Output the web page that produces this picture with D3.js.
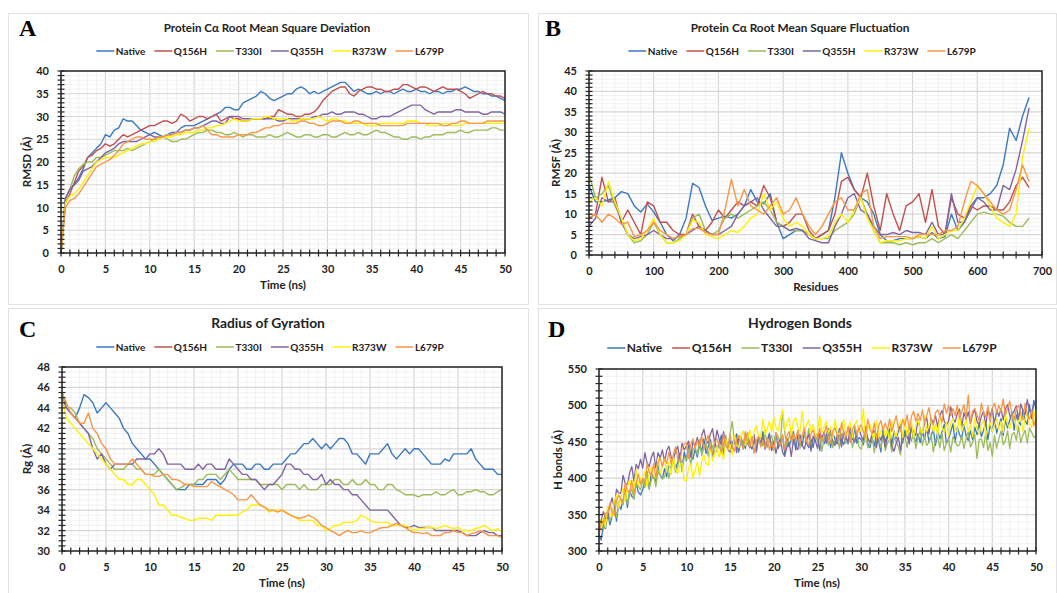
<!DOCTYPE html>
<html>
<head>
<meta charset="utf-8">
<script src="https://cdn.jsdelivr.net/npm/d3@7"></script>
<style>
body { margin: 0; background: #fff; }
svg { font-family: Lato, "Open Sans", sans-serif; }
</style>
</head>
<body>
<svg id="chart" width="1057" height="593"></svg>
<script>
const seriesNames = ['Native', 'Q156H', 'T330I', 'Q355H', 'R373W', 'L679P'];
const seriesColors = ['#3b78c0', '#c0504d', '#9bbb59', '#8064a2', '#fff000', '#f79646'];

// sampling grids: A and C every 0.5 ns, D every 0.25 ns, B every 10 residues
const timeNs = d3.range(0, 101).map(i => i * 0.5);
const timeFine = d3.range(0, 201).map(i => i * 0.25);
const residues = d3.range(0, 69).map(i => i * 10);

/*
 * A: RMSD (Å)
 */
const rmsdNative = [0, 12, 14, 15, 16.5, 18.5, 21, 22, 23, 24,
  26, 25.5, 27, 27.5, 29.5, 29, 29, 28, 27, 26.5,
  26, 26.5, 26, 25.5, 26, 26.5, 26.5, 27.5, 28, 28,
  28, 28.5, 29, 29.5, 30, 30.5, 31, 32, 32, 31.5,
  31.5, 33, 33.5, 34, 34.5, 35.5, 35, 34, 33.5, 34,
  34.5, 35, 35, 36, 36.5, 36, 35, 35.5, 35, 35.5,
  36, 36.5, 37, 37.5, 37.5, 36.5, 35.5, 36, 35.5, 35,
  35, 35.5, 35, 35.5, 35.5, 35, 35.5, 36, 35.5, 35.5,
  36, 35.5, 35.5, 35, 35.5, 35.5, 35, 35.5, 35.5, 36,
  36, 36.5, 36, 35.5, 35.5, 35, 35, 34.5, 34.5, 34,
  33.5];
const rmsdQ156H = [0, 11, 13, 15.5, 18, 19, 21, 21.5, 22.5, 23,
  24, 23.5, 24, 25, 26, 25.5, 26, 26.5, 27, 27.5,
  28, 28, 28.5, 29, 29, 28.5, 29, 30.5, 30, 29,
  29.5, 30, 30, 29.5, 30, 30.5, 29, 29.5, 30, 29.5,
  29.5, 29, 29, 29.5, 29.5, 29.5, 29.5, 30, 30, 31.5,
  31, 30.5, 30.5, 30, 30, 30.5, 30.5, 31, 32, 33.5,
  34.5, 35.5, 36, 36.5, 36.5, 35, 34.5, 35.5, 36, 36.5,
  36.5, 36, 36, 35.5, 35.5, 36, 36, 37, 37, 36.5,
  36, 36.5, 36.5, 36, 35.5, 36, 36.5, 36, 36, 36,
  35.5, 35, 34, 34.5, 35, 35.5, 35, 35, 34.5, 34.5,
  34];
const rmsdT330I = [0, 12, 14, 17, 18.5, 19.5, 20, 20, 21, 21,
  21.5, 22, 22.5, 22.5, 22.5, 23, 22.5, 23, 23.5, 24,
  24.5, 25, 25, 25.5, 25, 24.5, 24.5, 25, 25, 25.5,
  26, 26.5, 26.5, 27, 27, 26.5, 26.5, 26, 26, 26.5,
  26, 25.5, 26, 26, 25.5, 25.5, 25.5, 26, 25.5, 25.5,
  26, 26.5, 26, 25.5, 25.5, 26, 26, 25.5, 25.5, 26,
  26, 25.5, 25.5, 26, 26.5, 26, 26, 26.5, 26, 26,
  26.5, 27, 26.5, 26.5, 26, 25.5, 25.5, 25, 25, 25.5,
  25.5, 25, 25.5, 25.5, 26, 26, 26, 26.5, 26.5, 26.5,
  27, 26.5, 26.5, 27, 27, 27, 27, 27.5, 27.5, 27,
  27];
const rmsdQ355H = [0, 12, 14, 15, 16, 18, 18.5, 19, 20, 21,
  22, 22.5, 23, 24, 24.5, 24.5, 24.5, 24.5, 25, 25.5,
  26, 25.5, 25.5, 25.5, 26, 26, 26.5, 26.5, 27, 27,
  27.5, 27.5, 28, 28.5, 29, 29, 28.5, 28.5, 30, 30,
  30, 29.5, 29.5, 29.5, 29.5, 29.5, 29.5, 29.5, 29.5, 29,
  29, 29.5, 29.5, 29.5, 29.5, 29.5, 29.5, 30, 30, 30.5,
  30.5, 31, 30.5, 30.5, 31, 31, 31, 30.5, 30.5, 30,
  29.5, 29.5, 30, 30, 30, 30.5, 31, 31.5, 32, 32.5,
  32.5, 32.5, 31.5, 31, 30.5, 31, 31, 31, 31, 31.5,
  31.5, 31, 31, 31, 31, 30.5, 30.5, 31, 31, 31,
  30.5];
const rmsdR373W = [0, 11, 12.5, 13, 14, 15.5, 17, 18.5, 20, 20.5,
  21, 21, 21, 21.5, 22, 22.5, 23, 23.5, 24, 24,
  24.5, 24.5, 25, 25.5, 25.5, 25.5, 26, 26, 26.5, 26.5,
  26.5, 27, 27, 27.5, 27.5, 28, 28, 28.5, 29, 29.5,
  29, 29, 29, 29.5, 29.5, 29.5, 30, 30, 29.5, 29.5,
  29.5, 29.5, 29, 29, 29.5, 29.5, 29.5, 29.5, 30, 29.5,
  29, 29.5, 29.5, 29, 29, 28.5, 28.5, 28.5, 28.5, 28,
  28, 28, 28.5, 28.5, 28.5, 28.5, 28.5, 28.5, 29, 29,
  29, 28.5, 28.5, 28, 28, 28, 28.5, 28.5, 28, 28,
  28, 28.5, 28.5, 28.5, 28.5, 28.5, 28.5, 28.5, 28.5, 28.5,
  28.5];
const rmsdL679P = [0, 10, 11.5, 12, 13, 14.5, 16, 17.5, 19, 19.5,
  20, 20.5, 21.5, 22.5, 24, 24.5, 25, 25.5, 25.5, 25,
  25, 25, 25.5, 25.5, 26, 26, 26.5, 26.5, 27, 27,
  27.5, 27.5, 28, 27, 26, 26, 25.5, 25.5, 25.5, 25.5,
  26, 26, 26, 26.5, 26.5, 27, 27.5, 27.5, 28, 28,
  28.5, 28.5, 28.5, 28.5, 29, 29, 28.5, 28.5, 28, 28,
  28.5, 29, 29, 29, 28.5, 28.5, 29, 29, 28.5, 28.5,
  28.5, 28.5, 28, 28, 28, 28, 28, 28, 28.5, 28.5,
  28.5, 28.5, 28.5, 28.5, 28.5, 28.5, 28, 28, 28.5, 28.5,
  29, 29, 28.5, 28.5, 28.5, 28.5, 29, 29, 29, 29,
  29];

/*
 * B: RMSF (Å) per residue
 */
const rmsfNative = [17, 13, 13, 13.5, 14, 15.5, 15, 12, 10.5, 12.5,
  10.5, 8, 5, 3.5, 5, 9, 17.5, 16.5, 12, 8.5,
  9, 9.5, 9, 10, 12, 16, 13, 12.5, 15, 8,
  4, 5, 6, 6, 5, 4, 5, 6, 14, 25,
  20, 16, 14, 13, 10, 5, 3.5, 3.5, 4, 4,
  4, 4.5, 4, 5.5, 4, 4.5, 10, 6, 8, 12,
  14, 14, 15, 17, 22, 31, 28, 34, 38.5];
const rmsfQ156H = [9, 10, 19, 13, 14, 8, 11, 8, 5, 13,
  12, 8, 8, 6, 5, 5, 10, 7, 6, 8,
  11, 9, 11, 13, 12, 13, 12, 17, 14, 8,
  7, 8, 10, 10, 6, 4, 5, 6, 10, 18,
  19, 16, 14, 20, 12, 6, 15, 10, 6, 12,
  13, 15, 8, 16, 7, 5, 14, 10, 9, 12,
  11, 12, 12, 11, 11, 13, 17, 19, 16.5];
const rmsfT330I = [20, 14, 15, 17, 12, 9, 5, 3, 3.5, 5,
  8, 5, 3, 3, 4, 5, 9, 10, 6, 5,
  6, 9, 10, 9, 10, 11, 12, 13, 11, 8,
  7, 6, 6, 6, 5, 4, 4, 4, 6, 7,
  8, 10, 14, 10, 6, 3, 3, 3, 2.5, 3,
  2.5, 3, 3, 4, 3, 4, 5, 4, 6, 8,
  10, 10.5, 10, 10, 9.5, 8, 7, 7, 9];
const rmsfQ355H = [7, 9, 14, 13, 13, 8, 5, 4, 4.5, 5,
  6, 5, 4, 4, 4.5, 5, 6, 7, 6, 5,
  5, 6, 7, 10, 12, 13, 14, 11, 9, 7,
  7, 6, 6.5, 6, 4, 3.5, 3, 3, 7, 10,
  14, 15, 11, 10, 7, 5, 5, 5.5, 5, 6,
  5.5, 5.5, 5, 8, 5, 5, 15, 8, 8, 11,
  14, 13, 11, 11, 17, 16, 21, 28, 36];
const rmsfR373W = [13, 14, 12, 18, 13, 9, 5, 3.5, 4, 6,
  9, 5, 3, 3, 3.5, 5, 8.5, 8, 5, 4.5,
  4, 5, 6, 5.5, 7, 9, 10, 15, 11, 13,
  9, 7, 8, 7, 5, 4, 4, 4.5, 8, 10,
  8, 11, 14, 9, 6, 3, 3.5, 3.5, 3.5, 4,
  4, 4.5, 4, 7, 4, 5, 6, 6, 9, 13,
  17, 15, 12, 9, 8, 7, 10, 24, 31];
const rmsfL679P = [9, 10, 8, 10, 9, 7.5, 8, 4.5, 5, 6,
  8, 6, 5, 4, 4.5, 5, 6.5, 6.5, 5.5, 5,
  5, 11, 18.5, 12, 16, 12, 11, 10, 12, 14,
  10, 11, 14, 10, 7, 5, 7, 10, 13, 14,
  11, 11, 15, 16, 7, 4, 4.5, 4.5, 4.5, 4.5,
  4, 5, 5, 5, 5, 6, 6, 7, 13, 18,
  17, 15, 13, 11, 10, 11, 16, 22, 18];

/*
 * C: radius of gyration (Å); Q156H is not visible in the figure
 */
const rgNative = [45.5, 44, 43.5, 43, 44, 45.3, 45, 44.5, 43.5, 44,
  44.5, 44, 43.5, 43, 42, 41.5, 40.5, 40, 39.5, 39,
  39, 38.5, 38, 37.5, 37, 36.5, 36, 36, 36, 36.5,
  36.5, 36.5, 36.5, 37, 37, 37, 36.5, 37, 38, 38.5,
  38.5, 38.5, 38, 38, 38.5, 38.5, 38, 38, 38.5, 38.5,
  38.5, 39, 39.5, 39.5, 40, 40.5, 40.5, 41, 40.5, 40,
  40.5, 40, 40.5, 41, 41, 40.5, 39.5, 39.5, 39, 38.5,
  39.5, 39.5, 39.5, 40, 40.5, 39.5, 39, 39.5, 40, 39.5,
  40, 40, 39.5, 39, 38.5, 38.5, 38.5, 39, 38.8, 39.5,
  39.5, 39.5, 39.5, 40, 39, 38.5, 38, 38, 38, 37.5,
  37.5];
const rgQ156H = [];
const rgT330I = [45.5, 44, 44, 43.5, 42.5, 42, 41.5, 41, 40, 39.5,
  39, 38.5, 38, 38, 38, 38.5, 38.5, 38, 38, 37.5,
  37.5, 37.5, 38, 37.5, 37, 36.5, 36, 36.2, 36.5, 36.5,
  36.5, 37, 37, 37.5, 37.5, 37.5, 37, 37.5, 38, 37.5,
  37, 37, 37, 37, 37, 36.5, 36.5, 36.5, 36.5, 36.5,
  36, 36.5, 36.5, 36.5, 36, 36.5, 36, 36, 36, 36.5,
  36.5, 36.5, 37, 37, 36.5, 36.5, 37, 36.5, 36.5, 37,
  36.5, 36.5, 36, 36, 36.5, 36.5, 36, 35.8, 35.5, 35.5,
  35.5, 35.3, 35.5, 35.5, 35.5, 35.8, 35.5, 35.5, 35.8, 36,
  35.5, 35.5, 35.8, 35.8, 36, 35.8, 35.8, 35.5, 35.5, 35.8,
  36];
const rgQ355H = [45, 44, 43.5, 43, 42.5, 42, 41.5, 40, 39, 39.5,
  38.5, 38, 38.5, 38.5, 38.5, 38.5, 38.5, 39, 39, 39,
  39.5, 39.5, 40, 39.5, 38.5, 38.5, 38.5, 38.5, 38, 38,
  38, 38.5, 38, 38.5, 38.5, 38, 38, 38, 39, 38.5,
  38, 37.5, 37.5, 37, 37, 36.5, 36, 36.5, 36.5, 37,
  37.5, 38.5, 38.5, 38, 38, 37.5, 37.5, 37, 37, 37.5,
  36.5, 37, 36.5, 36.5, 36, 36, 35.5, 35.5, 35, 34.5,
  34, 34, 34, 34, 34, 33.5, 33, 32.5, 32.3, 32.3,
  32.5, 32.3, 32.3, 32.3, 32.3, 32, 32, 32, 32, 32,
  32, 31.8, 31.5, 31.5, 31.5, 31.8, 32, 31.8, 31.8, 31.5,
  31.5];
const rgR373W = [45, 43, 42.5, 42, 41.5, 41, 40.5, 40, 39.5, 39,
  38.5, 38, 37.5, 37, 37, 36.5, 36.5, 37, 37, 36.5,
  36, 35.5, 34.5, 34.5, 34, 33.5, 33.5, 33.3, 33.2, 33,
  33, 33.2, 33.2, 33.2, 33, 33.5, 33.5, 33.5, 33.5, 33.5,
  33.5, 33.8, 34, 34.5, 34.5, 34.5, 34.3, 33.8, 34, 34,
  34, 33.8, 33.5, 33.3, 33, 33, 33, 33, 32.5, 32.5,
  32, 32.2, 32.5, 32.5, 32.8, 32.8, 32.8, 33, 33.5, 33.3,
  33, 32.8, 32.8, 32.8, 32.8, 32.5, 32.5, 32.5, 32.5, 32.3,
  32, 32.2, 32.2, 32.3, 32.3, 32.2, 32.3, 32.5, 32.3, 32.2,
  32.3, 32, 32, 32, 32.2, 32.3, 32.5, 32.2, 32, 32.2,
  31.8];
const rgL679P = [45.5, 44.5, 43.5, 43, 42.5, 42.5, 43.5, 42, 41.5, 40.5,
  40, 39, 38.5, 38.5, 38.5, 38.5, 39, 38.5, 38, 37.5,
  37.5, 37.3, 37.3, 37.5, 37.5, 37, 37, 36.8, 36.5, 36.5,
  36.3, 36.3, 36.3, 36.3, 36.8, 36.5, 36.3, 36, 35.8, 35.5,
  35, 35, 35, 35.5, 35, 34.5, 34.3, 34, 34, 33.8,
  34, 33.7, 33.5, 33.3, 33.2, 33.3, 33.5, 33.3, 33, 32.5,
  32.3, 32, 31.8, 31.5, 31.8, 32, 31.8, 31.8, 32, 31.8,
  31.8, 32, 32.2, 32.3, 32.3, 32.5, 32.7, 32.5, 32.3, 32,
  31.8, 31.8, 31.7, 31.8, 31.5, 31.5, 31.5, 31.8, 31.8, 32,
  31.8, 31.8, 31.5, 31.7, 31.8, 32, 31.8, 31.5, 31.5, 31.5,
  31.3];

/*
 * D: hydrogen bonds every 0.25 ns; Q156H is not visible in the figure
 */
const hbNative = [
  322, 315, 336, 331, 352, 336, 348, 361, 341, 365, 357, 370, 384, 360, 383, 375, 372, 394, 381, 377,
  384, 396, 409, 385, 408, 400, 396, 418, 404, 399, 413, 402, 420, 412, 430, 412, 422, 434, 413, 436,
  424, 445, 431, 426, 440, 429, 446, 437, 454, 434, 443, 453, 430, 450, 438, 448, 459, 433, 453, 443,
  452, 440, 451, 461, 436, 456, 447, 441, 462, 446, 440, 453, 441, 457, 447, 464, 444, 452, 462, 438,
  446, 462, 441, 449, 458, 434, 455, 443, 454, 464, 439, 459, 450, 444, 464, 448, 442, 454, 442, 458,
  462, 438, 459, 447, 458, 468, 442, 463, 453, 447, 468, 452, 446, 458, 447, 463, 453, 469, 448, 456,
  453, 446, 465, 448, 442, 455, 444, 460, 451, 436, 469, 450, 458, 468, 445, 465, 454, 464, 474, 448,
  466, 456, 451, 471, 456, 450, 461, 449, 464, 454, 470, 450, 458, 468, 445, 465, 454, 464, 474, 448,
  454, 464, 475, 449, 470, 460, 454, 474, 458, 452, 465, 453, 470, 460, 477, 457, 466, 476, 453, 473,
  464, 481, 462, 471, 482, 459, 480, 469, 480, 491, 466, 487, 478, 473, 494, 479, 474, 501, 482, 507,
  495];
const hbQ156H = [];
const hbT330I = [
  326, 342, 328, 343, 357, 341, 350, 366, 346, 367, 372, 363, 386, 365, 378, 386, 371, 393, 389, 384,
  398, 387, 409, 386, 398, 405, 388, 409, 405, 399, 402, 416, 400, 414, 426, 408, 416, 430, 409, 429,
  426, 440, 418, 439, 443, 432, 453, 431, 442, 448, 430, 449, 443, 435, 438, 451, 434, 447, 459, 440,
  462, 478, 448, 444, 446, 458, 440, 452, 462, 442, 448, 460, 436, 454, 456, 444, 466, 442, 453, 459,
  442, 462, 457, 449, 492, 463, 445, 457, 467, 447, 453, 465, 441, 459, 461, 449, 468, 444, 453, 459,
  450, 461, 437, 454, 456, 445, 465, 442, 452, 459, 441, 462, 456, 448, 449, 461, 442, 454, 463, 443,
  440, 452, 462, 442, 446, 458, 435, 453, 454, 442, 462, 438, 448, 454, 436, 456, 451, 443, 432, 458,
  458, 442, 463, 451, 465, 441, 456, 466, 445, 458, 445, 449, 460, 436, 453, 455, 442, 462, 438, 448,
  454, 436, 457, 451, 444, 446, 459, 441, 454, 464, 443, 449, 460, 427, 453, 454, 442, 462, 438, 449,
  430, 459, 441, 454, 465, 446, 452, 465, 441, 460, 463, 452, 472, 449, 459, 466, 448, 469, 463, 456,
  458];
const hbQ355H = [
  322, 342, 354, 345, 345, 362, 373, 358, 385, 380, 379, 404, 393, 391, 407, 416, 396, 419, 413, 426,
  414, 435, 421, 416, 429, 436, 414, 435, 428, 439, 423, 438, 444, 429, 424, 437, 444, 425, 448, 439,
  444, 451, 429, 450, 444, 456, 442, 459, 467, 452, 448, 461, 468, 446, 466, 454, 446, 464, 447, 439,
  436, 448, 455, 435, 458, 448, 443, 463, 448, 442, 454, 460, 436, 456, 448, 457, 440, 453, 458, 441,
  451, 434, 448, 453, 436, 430, 443, 449, 430, 453, 444, 439, 460, 445, 440, 453, 460, 437, 458, 452,
  441, 461, 453, 464, 448, 462, 467, 451, 445, 457, 463, 443, 465, 455, 450, 470, 455, 449, 461, 468,
  458, 452, 471, 455, 449, 461, 466, 442, 461, 452, 460, 443, 456, 461, 444, 437, 448, 456, 438, 462,
  457, 465, 447, 471, 463, 459, 481, 467, 462, 476, 483, 461, 482, 475, 486, 471, 486, 493, 478, 473,
  478, 498, 482, 477, 489, 495, 470, 490, 481, 491, 475, 488, 494, 478, 473, 485, 492, 472, 495, 485,
  496, 472, 493, 485, 496, 480, 495, 501, 486, 480, 493, 499, 480, 502, 493, 487, 508, 493, 488, 501,
  506];
const hbR373W = [
  345, 332, 345, 333, 362, 350, 348, 367, 377, 359, 374, 386, 368, 389, 398, 386, 385, 411, 391, 400,
  400, 409, 388, 408, 415, 403, 401, 427, 407, 416, 425, 411, 422, 405, 430, 413, 406, 418, 421, 397,
  397, 413, 420, 400, 412, 422, 403, 423, 432, 420, 418, 444, 424, 434, 443, 429, 440, 426, 453, 439,
  446, 432, 460, 446, 442, 458, 465, 445, 456, 466, 445, 465, 472, 459, 456, 481, 460, 469, 478, 463,
  484, 470, 465, 481, 494, 466, 475, 483, 460, 478, 483, 469, 464, 492, 465, 473, 480, 464, 474, 458,
  462, 486, 463, 471, 478, 462, 471, 455, 480, 464, 459, 473, 480, 458, 469, 477, 456, 474, 479, 464,
  466, 496, 451, 469, 474, 460, 455, 479, 456, 464, 472, 457, 467, 451, 478, 462, 457, 471, 478, 456,
  480, 458, 469, 477, 456, 474, 480, 466, 462, 486, 464, 472, 480, 464, 474, 458, 485, 469, 463, 477,
  458, 476, 482, 467, 463, 487, 464, 472, 480, 464, 473, 457, 483, 467, 460, 474, 480, 458, 469, 477,
  464, 473, 482, 467, 478, 463, 489, 474, 468, 483, 489, 467, 478, 486, 464, 482, 488, 474, 470, 494,
  476];
const hbL679P = [
  322, 340, 338, 352, 352, 366, 352, 349, 369, 377, 371, 366, 394, 383, 380, 397, 378, 393, 406, 392,
  400, 394, 420, 408, 404, 420, 400, 420, 428, 416, 428, 420, 436, 420, 432, 443, 427, 423, 441, 447,
  448, 427, 447, 454, 441, 452, 443, 458, 440, 450, 459, 441, 435, 450, 454, 444, 436, 460, 447, 441,
  460, 443, 437, 454, 458, 448, 440, 464, 450, 443, 457, 434, 452, 457, 443, 452, 442, 456, 439, 449,
  438, 463, 450, 445, 460, 439, 458, 464, 451, 461, 452, 466, 448, 458, 469, 451, 445, 461, 466, 456,
  454, 468, 451, 461, 472, 454, 448, 465, 469, 459, 452, 476, 462, 456, 471, 449, 467, 473, 460, 470,
  473, 464, 456, 481, 467, 461, 476, 454, 472, 479, 466, 476, 466, 481, 464, 475, 486, 469, 464, 481,
  472, 487, 466, 485, 492, 478, 489, 479, 494, 476, 486, 497, 479, 473, 490, 494, 485, 477, 502, 489,
  500, 486, 496, 486, 500, 482, 491, 501, 482, 514, 476, 492, 496, 486, 479, 503, 490, 484, 499, 477,
  496, 503, 490, 500, 491, 509, 487, 496, 506, 487, 481, 496, 500, 489, 480, 503, 488, 481, 494, 472,
  482];

const svg = d3.select('#chart');

function drawPanel(p) {
    const g = svg.append('g');
    g.append('rect')
        .attr('x', p.box[0] + 0.5).attr('y', p.box[1] + 0.5)
        .attr('width', p.box[2]).attr('height', p.box[3])
        .attr('fill', 'none').attr('stroke', '#e2e2e2');

    const x = d3.scaleLinear().domain(p.xDomain).range([p.plot.x0, p.plot.x1]);
    const y = d3.scaleLinear().domain(p.yDomain).range([p.plot.y1, p.plot.y0]);
    const steps = (dom, step) => d3.range(0, Math.round((dom[1] - dom[0]) / step) + 1).map(i => dom[0] + i * step);
    const isMajor = (v, dom, major) => Math.abs(((v - dom[0]) / major) - Math.round((v - dom[0]) / major)) < 1e-6;

    // grid: minor then major
    const grid = g.append('g');
    steps(p.xDomain, p.xMinor).forEach(v => {
        const major = isMajor(v, p.xDomain, p.xMajor);
        grid.append('line')
            .attr('x1', x(v)).attr('x2', x(v)).attr('y1', p.plot.y0).attr('y2', p.plot.y1)
            .attr('stroke', major ? '#d6d6d6' : '#efefef')
            .attr('stroke-width', major ? 1.2 : 0.8);
    });
    steps(p.yDomain, p.yMinor).forEach(v => {
        const major = isMajor(v, p.yDomain, p.yMajor);
        grid.append('line')
            .attr('y1', y(v)).attr('y2', y(v)).attr('x1', p.plot.x0).attr('x2', p.plot.x1)
            .attr('stroke', major ? '#d6d6d6' : '#efefef')
            .attr('stroke-width', major ? 1.2 : 0.8);
    });

    // series
    const line = d3.line().x(d => x(d[0])).y(d => y(d[1]));
    p.series.forEach((vals, i) => {
        if (!vals.length) return;
        g.append('path')
            .datum(vals.map((v, j) => [p.xs[j], v]))
            .attr('d', line)
            .attr('fill', 'none')
            .attr('stroke', seriesColors[i])
            .attr('stroke-width', p.lineWidth)
            .attr('stroke-linejoin', 'round');
    });

    // frame
    g.append('rect')
        .attr('x', p.plot.x0).attr('y', p.plot.y0)
        .attr('width', p.plot.x1 - p.plot.x0).attr('height', p.plot.y1 - p.plot.y0)
        .attr('fill', 'none').attr('stroke', '#262626').attr('stroke-width', 1.5);

    // crossing tick marks
    const ticks = g.append('g').attr('stroke', '#262626').attr('stroke-width', 1.2);
    steps(p.xDomain, p.xMinor).forEach(v => {
        ticks.append('line').attr('x1', x(v)).attr('x2', x(v))
            .attr('y1', p.plot.y1 - 3.5).attr('y2', p.plot.y1 + 3.5);
    });
    steps(p.yDomain, p.yMinor).forEach(v => {
        ticks.append('line').attr('y1', y(v)).attr('y2', y(v))
            .attr('x1', p.plot.x0 - 3.5).attr('x2', p.plot.x0 + 3.5);
    });

    // tick labels
    const xAxis = g.append('g')
        .attr('transform', `translate(0,${p.plot.y1})`)
        .call(d3.axisBottom(x).tickValues(steps(p.xDomain, p.xMajor)).tickSize(0).tickPadding(12).tickFormat(d3.format('d')));
    const yAxis = g.append('g')
        .attr('transform', `translate(${p.plot.x0},0)`)
        .call(d3.axisLeft(y).tickValues(steps(p.yDomain, p.yMajor)).tickSize(0).tickPadding(12).tickFormat(d3.format('d')));
    [xAxis, yAxis].forEach(a => {
        a.select('.domain').remove();
        a.selectAll('text')
            .attr('font-family', 'Lato, sans-serif')
            .attr('font-size', 11).attr('font-weight', 700).attr('fill', '#222');
    });

    // axis titles
    g.append('text')
        .attr('x', p.xTitleX).attr('y', p.plot.y1 + 36)
        .attr('text-anchor', 'middle').attr('font-size', 11.5).attr('font-weight', 700).attr('fill', '#222')
        .text(p.xTitle);
    g.append('text')
        .attr('transform', `translate(${p.yTitleX},${(p.plot.y0 + p.plot.y1) / 2}) rotate(-90)`)
        .attr('text-anchor', 'middle').attr('font-size', 11.5).attr('font-weight', 700).attr('fill', '#222')
        .text(p.yTitle);

    // panel letter and title
    g.append('text')
        .attr('x', p.letterPos[0]).attr('y', p.letterPos[1])
        .attr('font-family', '"Liberation Serif", serif').attr('font-size', 24).attr('font-weight', 700)
        .text(p.letter);
    g.append('text')
        .attr('x', p.titleX).attr('y', p.titleY)
        .attr('text-anchor', 'middle').attr('font-size', p.titleSize).attr('font-weight', 700).attr('fill', '#222')
        .text(p.title);

    // legend
    const leg = g.append('g');
    let cx = 0;
    seriesNames.forEach((name, i) => {
        leg.append('line').attr('x1', cx).attr('x2', cx + 18).attr('y1', 0).attr('y2', 0)
            .attr('stroke', seriesColors[i]).attr('stroke-width', 1.5);
        const t = leg.append('text').attr('x', cx + 19.5).attr('y', 0).attr('dy', '0.35em')
            .attr('font-size', p.legendSize).attr('font-weight', 700).attr('fill', '#222')
            .text(name);
        cx += 19.5 + t.node().getComputedTextLength() + p.legendGap;
    });
    const legW = cx - p.legendGap;
    leg.attr('transform', `translate(${p.legendX - legW / 2},${p.legendY})`);
}

drawPanel({
    box: [8, 13, 520, 291], plot: { x0: 61, x1: 505, y0: 71, y1: 253 },
    xDomain: [0, 50], yDomain: [0, 40], xMajor: 5, xMinor: 1, yMajor: 5, yMinor: 1,
    xs: timeNs, series: [rmsdNative, rmsdQ156H, rmsdT330I, rmsdQ355H, rmsdR373W, rmsdL679P], lineWidth: 1.4,
    letter: 'A', letterPos: [19, 36], title: 'Protein C\u03b1 Root Mean Square Deviation',
    titleX: 267, titleY: 32, titleSize: 11.6, legendX: 270, legendY: 51, legendSize: 10, legendGap: 9,
    xTitle: 'Time (ns)', xTitleX: 283, yTitle: 'RMSD (\u00c5)', yTitleX: 31
});
drawPanel({
    box: [538, 13, 518, 291], plot: { x0: 589, x1: 1042, y0: 71, y1: 255 },
    xDomain: [0, 700], yDomain: [0, 45], xMajor: 100, xMinor: 20, yMajor: 5, yMinor: 1,
    xs: residues, series: [rmsfNative, rmsfQ156H, rmsfT330I, rmsfQ355H, rmsfR373W, rmsfL679P], lineWidth: 1.4,
    letter: 'B', letterPos: [545, 36], title: 'Protein C\u03b1 Root Mean Square Fluctuation',
    titleX: 800, titleY: 32, titleSize: 11.8, legendX: 802, legendY: 51, legendSize: 10, legendGap: 9,
    xTitle: 'Residues', xTitleX: 816, yTitle: 'RMSF (\u00c5)', yTitleX: 560
});
drawPanel({
    box: [8, 308, 520, 285], plot: { x0: 62, x1: 502, y0: 367, y1: 551 },
    xDomain: [0, 50], yDomain: [30, 48], xMajor: 5, xMinor: 1, yMajor: 2, yMinor: 0.5,
    xs: timeNs, series: [rgNative, rgQ156H, rgT330I, rgQ355H, rgR373W, rgL679P], lineWidth: 1.4,
    letter: 'C', letterPos: [19, 337], title: 'Radius of Gyration',
    titleX: 268, titleY: 328, titleSize: 13.8, legendX: 270, legendY: 347, legendSize: 10, legendGap: 9,
    xTitle: 'Time (ns)', xTitleX: 282, yTitle: 'Rg (\u00c5)', yTitleX: 31
});
drawPanel({
    box: [538, 308, 518, 285], plot: { x0: 599, x1: 1036, y0: 369, y1: 551 },
    xDomain: [0, 50], yDomain: [300, 550], xMajor: 5, xMinor: 1, yMajor: 50, yMinor: 10,
    xs: timeFine, series: [hbNative, hbQ156H, hbT330I, hbQ355H, hbR373W, hbL679P], lineWidth: 1.3,
    letter: 'D', letterPos: [548, 337], title: 'Hydrogen Bonds',
    titleX: 800, titleY: 328, titleSize: 14, legendX: 802, legendY: 348, legendSize: 12, legendGap: 10,
    xTitle: 'Time (ns)', xTitleX: 817, yTitle: 'H bonds (\u00c5)', yTitleX: 562
});
</script>
</body>
</html>
